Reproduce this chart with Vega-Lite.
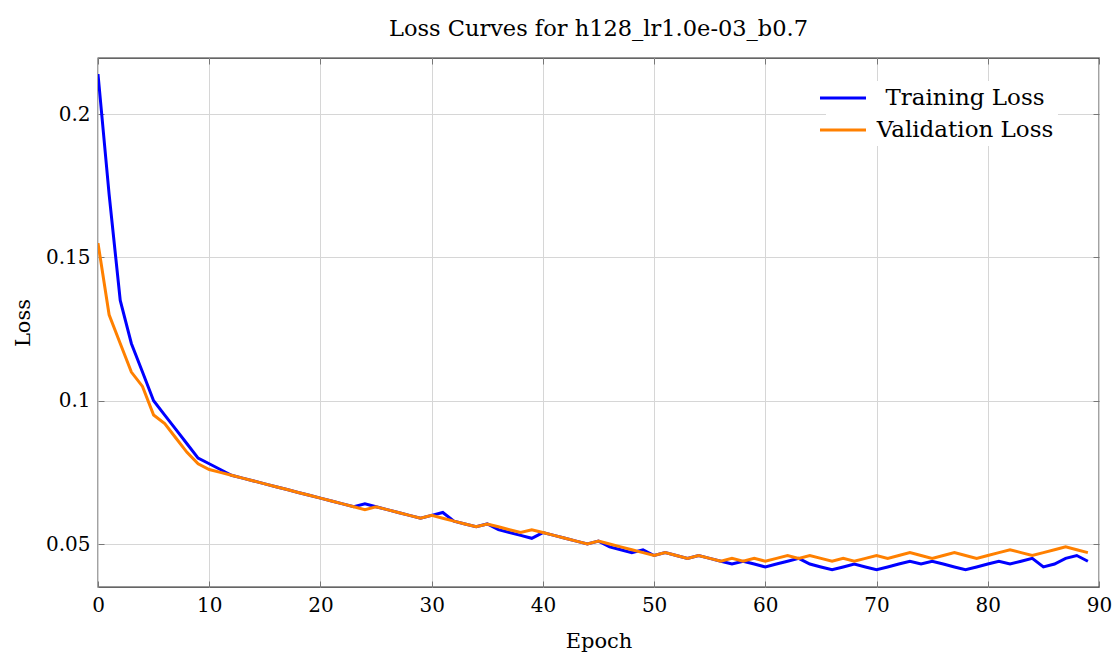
{
  "$schema": "https://vega.github.io/schema/vega-lite/v6.json",
  "width": 1001,
  "height": 529,
  "autosize": {"type": "none"},
  "padding": {"left": 98, "top": 58, "right": 16, "bottom": 70},
  "background": "white",
  "title": {
    "text": "Loss Curves for h128_lr1.0e-03_b0.7",
    "font": "DejaVu Serif",
    "fontSize": 22.5,
    "fontWeight": "normal",
    "color": "black",
    "anchor": "middle",
    "offset": 17
  },
  "config": {
    "view": {"stroke": "#333333", "strokeWidth": 1.3},
    "axis": {
      "labelFont": "DejaVu Serif",
      "titleFont": "DejaVu Serif",
      "labelFontSize": 20,
      "titleFontSize": 21,
      "titleFontWeight": "normal",
      "labelColor": "black",
      "titleColor": "black",
      "domain": false,
      "gridColor": "#d6d6d6",
      "gridWidth": 1,
      "tickColor": "#777777",
      "tickSize": -6,
      "tickWidth": 1
    }
  },
  "data": {
    "values": [
      {"epoch": 0, "series": "Training Loss", "loss": 0.214},
      {"epoch": 1, "series": "Training Loss", "loss": 0.172},
      {"epoch": 2, "series": "Training Loss", "loss": 0.135},
      {"epoch": 3, "series": "Training Loss", "loss": 0.12},
      {"epoch": 4, "series": "Training Loss", "loss": 0.11},
      {"epoch": 5, "series": "Training Loss", "loss": 0.1},
      {"epoch": 6, "series": "Training Loss", "loss": 0.095},
      {"epoch": 7, "series": "Training Loss", "loss": 0.09},
      {"epoch": 8, "series": "Training Loss", "loss": 0.085},
      {"epoch": 9, "series": "Training Loss", "loss": 0.08},
      {"epoch": 10, "series": "Training Loss", "loss": 0.078},
      {"epoch": 11, "series": "Training Loss", "loss": 0.076},
      {"epoch": 12, "series": "Training Loss", "loss": 0.074},
      {"epoch": 13, "series": "Training Loss", "loss": 0.073},
      {"epoch": 14, "series": "Training Loss", "loss": 0.072},
      {"epoch": 15, "series": "Training Loss", "loss": 0.071},
      {"epoch": 16, "series": "Training Loss", "loss": 0.07},
      {"epoch": 17, "series": "Training Loss", "loss": 0.069},
      {"epoch": 18, "series": "Training Loss", "loss": 0.068},
      {"epoch": 19, "series": "Training Loss", "loss": 0.067},
      {"epoch": 20, "series": "Training Loss", "loss": 0.066},
      {"epoch": 21, "series": "Training Loss", "loss": 0.065},
      {"epoch": 22, "series": "Training Loss", "loss": 0.064},
      {"epoch": 23, "series": "Training Loss", "loss": 0.063},
      {"epoch": 24, "series": "Training Loss", "loss": 0.064},
      {"epoch": 25, "series": "Training Loss", "loss": 0.063},
      {"epoch": 26, "series": "Training Loss", "loss": 0.062},
      {"epoch": 27, "series": "Training Loss", "loss": 0.061},
      {"epoch": 28, "series": "Training Loss", "loss": 0.06},
      {"epoch": 29, "series": "Training Loss", "loss": 0.059},
      {"epoch": 30, "series": "Training Loss", "loss": 0.06},
      {"epoch": 31, "series": "Training Loss", "loss": 0.061},
      {"epoch": 32, "series": "Training Loss", "loss": 0.058},
      {"epoch": 33, "series": "Training Loss", "loss": 0.057},
      {"epoch": 34, "series": "Training Loss", "loss": 0.056},
      {"epoch": 35, "series": "Training Loss", "loss": 0.057},
      {"epoch": 36, "series": "Training Loss", "loss": 0.055},
      {"epoch": 37, "series": "Training Loss", "loss": 0.054},
      {"epoch": 38, "series": "Training Loss", "loss": 0.053},
      {"epoch": 39, "series": "Training Loss", "loss": 0.052},
      {"epoch": 40, "series": "Training Loss", "loss": 0.054},
      {"epoch": 41, "series": "Training Loss", "loss": 0.053},
      {"epoch": 42, "series": "Training Loss", "loss": 0.052},
      {"epoch": 43, "series": "Training Loss", "loss": 0.051},
      {"epoch": 44, "series": "Training Loss", "loss": 0.05},
      {"epoch": 45, "series": "Training Loss", "loss": 0.051},
      {"epoch": 46, "series": "Training Loss", "loss": 0.049},
      {"epoch": 47, "series": "Training Loss", "loss": 0.048},
      {"epoch": 48, "series": "Training Loss", "loss": 0.047},
      {"epoch": 49, "series": "Training Loss", "loss": 0.048},
      {"epoch": 50, "series": "Training Loss", "loss": 0.046},
      {"epoch": 51, "series": "Training Loss", "loss": 0.047},
      {"epoch": 52, "series": "Training Loss", "loss": 0.046},
      {"epoch": 53, "series": "Training Loss", "loss": 0.045},
      {"epoch": 54, "series": "Training Loss", "loss": 0.046},
      {"epoch": 55, "series": "Training Loss", "loss": 0.045},
      {"epoch": 56, "series": "Training Loss", "loss": 0.044},
      {"epoch": 57, "series": "Training Loss", "loss": 0.043},
      {"epoch": 58, "series": "Training Loss", "loss": 0.044},
      {"epoch": 59, "series": "Training Loss", "loss": 0.043},
      {"epoch": 60, "series": "Training Loss", "loss": 0.042},
      {"epoch": 61, "series": "Training Loss", "loss": 0.043},
      {"epoch": 62, "series": "Training Loss", "loss": 0.044},
      {"epoch": 63, "series": "Training Loss", "loss": 0.045},
      {"epoch": 64, "series": "Training Loss", "loss": 0.043},
      {"epoch": 65, "series": "Training Loss", "loss": 0.042},
      {"epoch": 66, "series": "Training Loss", "loss": 0.041},
      {"epoch": 67, "series": "Training Loss", "loss": 0.042},
      {"epoch": 68, "series": "Training Loss", "loss": 0.043},
      {"epoch": 69, "series": "Training Loss", "loss": 0.042},
      {"epoch": 70, "series": "Training Loss", "loss": 0.041},
      {"epoch": 71, "series": "Training Loss", "loss": 0.042},
      {"epoch": 72, "series": "Training Loss", "loss": 0.043},
      {"epoch": 73, "series": "Training Loss", "loss": 0.044},
      {"epoch": 74, "series": "Training Loss", "loss": 0.043},
      {"epoch": 75, "series": "Training Loss", "loss": 0.044},
      {"epoch": 76, "series": "Training Loss", "loss": 0.043},
      {"epoch": 77, "series": "Training Loss", "loss": 0.042},
      {"epoch": 78, "series": "Training Loss", "loss": 0.041},
      {"epoch": 79, "series": "Training Loss", "loss": 0.042},
      {"epoch": 80, "series": "Training Loss", "loss": 0.043},
      {"epoch": 81, "series": "Training Loss", "loss": 0.044},
      {"epoch": 82, "series": "Training Loss", "loss": 0.043},
      {"epoch": 83, "series": "Training Loss", "loss": 0.044},
      {"epoch": 84, "series": "Training Loss", "loss": 0.045},
      {"epoch": 85, "series": "Training Loss", "loss": 0.042},
      {"epoch": 86, "series": "Training Loss", "loss": 0.043},
      {"epoch": 87, "series": "Training Loss", "loss": 0.045},
      {"epoch": 88, "series": "Training Loss", "loss": 0.046},
      {"epoch": 89, "series": "Training Loss", "loss": 0.044},
      {"epoch": 0, "series": "Validation Loss", "loss": 0.155},
      {"epoch": 1, "series": "Validation Loss", "loss": 0.13},
      {"epoch": 2, "series": "Validation Loss", "loss": 0.12},
      {"epoch": 3, "series": "Validation Loss", "loss": 0.11},
      {"epoch": 4, "series": "Validation Loss", "loss": 0.105},
      {"epoch": 5, "series": "Validation Loss", "loss": 0.095},
      {"epoch": 6, "series": "Validation Loss", "loss": 0.092},
      {"epoch": 7, "series": "Validation Loss", "loss": 0.087},
      {"epoch": 8, "series": "Validation Loss", "loss": 0.082},
      {"epoch": 9, "series": "Validation Loss", "loss": 0.078},
      {"epoch": 10, "series": "Validation Loss", "loss": 0.076},
      {"epoch": 11, "series": "Validation Loss", "loss": 0.075},
      {"epoch": 12, "series": "Validation Loss", "loss": 0.074},
      {"epoch": 13, "series": "Validation Loss", "loss": 0.073},
      {"epoch": 14, "series": "Validation Loss", "loss": 0.072},
      {"epoch": 15, "series": "Validation Loss", "loss": 0.071},
      {"epoch": 16, "series": "Validation Loss", "loss": 0.07},
      {"epoch": 17, "series": "Validation Loss", "loss": 0.069},
      {"epoch": 18, "series": "Validation Loss", "loss": 0.068},
      {"epoch": 19, "series": "Validation Loss", "loss": 0.067},
      {"epoch": 20, "series": "Validation Loss", "loss": 0.066},
      {"epoch": 21, "series": "Validation Loss", "loss": 0.065},
      {"epoch": 22, "series": "Validation Loss", "loss": 0.064},
      {"epoch": 23, "series": "Validation Loss", "loss": 0.063},
      {"epoch": 24, "series": "Validation Loss", "loss": 0.062},
      {"epoch": 25, "series": "Validation Loss", "loss": 0.063},
      {"epoch": 26, "series": "Validation Loss", "loss": 0.062},
      {"epoch": 27, "series": "Validation Loss", "loss": 0.061},
      {"epoch": 28, "series": "Validation Loss", "loss": 0.06},
      {"epoch": 29, "series": "Validation Loss", "loss": 0.059},
      {"epoch": 30, "series": "Validation Loss", "loss": 0.06},
      {"epoch": 31, "series": "Validation Loss", "loss": 0.059},
      {"epoch": 32, "series": "Validation Loss", "loss": 0.058},
      {"epoch": 33, "series": "Validation Loss", "loss": 0.057},
      {"epoch": 34, "series": "Validation Loss", "loss": 0.056},
      {"epoch": 35, "series": "Validation Loss", "loss": 0.057},
      {"epoch": 36, "series": "Validation Loss", "loss": 0.056},
      {"epoch": 37, "series": "Validation Loss", "loss": 0.055},
      {"epoch": 38, "series": "Validation Loss", "loss": 0.054},
      {"epoch": 39, "series": "Validation Loss", "loss": 0.055},
      {"epoch": 40, "series": "Validation Loss", "loss": 0.054},
      {"epoch": 41, "series": "Validation Loss", "loss": 0.053},
      {"epoch": 42, "series": "Validation Loss", "loss": 0.052},
      {"epoch": 43, "series": "Validation Loss", "loss": 0.051},
      {"epoch": 44, "series": "Validation Loss", "loss": 0.05},
      {"epoch": 45, "series": "Validation Loss", "loss": 0.051},
      {"epoch": 46, "series": "Validation Loss", "loss": 0.05},
      {"epoch": 47, "series": "Validation Loss", "loss": 0.049},
      {"epoch": 48, "series": "Validation Loss", "loss": 0.048},
      {"epoch": 49, "series": "Validation Loss", "loss": 0.047},
      {"epoch": 50, "series": "Validation Loss", "loss": 0.046},
      {"epoch": 51, "series": "Validation Loss", "loss": 0.047},
      {"epoch": 52, "series": "Validation Loss", "loss": 0.046},
      {"epoch": 53, "series": "Validation Loss", "loss": 0.045},
      {"epoch": 54, "series": "Validation Loss", "loss": 0.046},
      {"epoch": 55, "series": "Validation Loss", "loss": 0.045},
      {"epoch": 56, "series": "Validation Loss", "loss": 0.044},
      {"epoch": 57, "series": "Validation Loss", "loss": 0.045},
      {"epoch": 58, "series": "Validation Loss", "loss": 0.044},
      {"epoch": 59, "series": "Validation Loss", "loss": 0.045},
      {"epoch": 60, "series": "Validation Loss", "loss": 0.044},
      {"epoch": 61, "series": "Validation Loss", "loss": 0.045},
      {"epoch": 62, "series": "Validation Loss", "loss": 0.046},
      {"epoch": 63, "series": "Validation Loss", "loss": 0.045},
      {"epoch": 64, "series": "Validation Loss", "loss": 0.046},
      {"epoch": 65, "series": "Validation Loss", "loss": 0.045},
      {"epoch": 66, "series": "Validation Loss", "loss": 0.044},
      {"epoch": 67, "series": "Validation Loss", "loss": 0.045},
      {"epoch": 68, "series": "Validation Loss", "loss": 0.044},
      {"epoch": 69, "series": "Validation Loss", "loss": 0.045},
      {"epoch": 70, "series": "Validation Loss", "loss": 0.046},
      {"epoch": 71, "series": "Validation Loss", "loss": 0.045},
      {"epoch": 72, "series": "Validation Loss", "loss": 0.046},
      {"epoch": 73, "series": "Validation Loss", "loss": 0.047},
      {"epoch": 74, "series": "Validation Loss", "loss": 0.046},
      {"epoch": 75, "series": "Validation Loss", "loss": 0.045},
      {"epoch": 76, "series": "Validation Loss", "loss": 0.046},
      {"epoch": 77, "series": "Validation Loss", "loss": 0.047},
      {"epoch": 78, "series": "Validation Loss", "loss": 0.046},
      {"epoch": 79, "series": "Validation Loss", "loss": 0.045},
      {"epoch": 80, "series": "Validation Loss", "loss": 0.046},
      {"epoch": 81, "series": "Validation Loss", "loss": 0.047},
      {"epoch": 82, "series": "Validation Loss", "loss": 0.048},
      {"epoch": 83, "series": "Validation Loss", "loss": 0.047},
      {"epoch": 84, "series": "Validation Loss", "loss": 0.046},
      {"epoch": 85, "series": "Validation Loss", "loss": 0.047},
      {"epoch": 86, "series": "Validation Loss", "loss": 0.048},
      {"epoch": 87, "series": "Validation Loss", "loss": 0.049},
      {"epoch": 88, "series": "Validation Loss", "loss": 0.048},
      {"epoch": 89, "series": "Validation Loss", "loss": 0.047}
    ]
  },
  "resolve": {"axis": {"x": "independent", "y": "independent"}},
  "layer": [
    {
      "mark": {"type": "line", "strokeWidth": 3, "clip": true},
      "encoding": {
        "x": {
          "field": "epoch",
          "type": "quantitative",
          "scale": {"domain": [0, 90], "nice": false, "zero": false},
          "axis": {"title": "Epoch", "values": [0, 10, 20, 30, 40, 50, 60, 70, 80, 90], "labelPadding": 14, "titlePadding": 15, "labelFlush": false}
        },
        "y": {
          "field": "loss",
          "type": "quantitative",
          "scale": {"domain": [0.035, 0.2196], "nice": false, "zero": false},
          "axis": {"title": "Loss", "values": [0.05, 0.1, 0.15, 0.2], "format": "~g", "labelPadding": 14, "titlePadding": 12, "labelFlush": false}
        },
        "color": {
          "field": "series",
          "type": "nominal",
          "scale": {"domain": ["Training Loss", "Validation Loss"], "range": ["#0000ff", "#ff8000"]},
          "legend": {
            "title": null,
            "orient": "none",
            "legendX": 728,
            "legendY": 23,
            "fillColor": "white",
            "strokeColor": null,
            "padding": 4,
            "symbolType": "M-2,0H2",
            "symbolSize": 529,
            "symbolStrokeWidth": 3,
            "labelFont": "DejaVu Serif",
            "labelFontSize": 23,
            "labelColor": "black",
            "labelAlign": "center",
            "labelOffset": 109,
            "labelLimit": 400,
            "rowPadding": 7
          }
        }
      }
    },
    {
      "mark": {"type": "line", "opacity": 0},
      "encoding": {
        "x": {
          "field": "epoch",
          "type": "quantitative",
          "axis": {"orient": "top", "labels": false, "grid": false, "title": null, "values": [0, 10, 20, 30, 40, 50, 60, 70, 80, 90]}
        },
        "y": {
          "field": "loss",
          "type": "quantitative",
          "axis": {"orient": "right", "labels": false, "grid": false, "title": null, "values": [0.05, 0.1, 0.15, 0.2]}
        },
        "detail": {"field": "series"}
      }
    }
  ]
}
